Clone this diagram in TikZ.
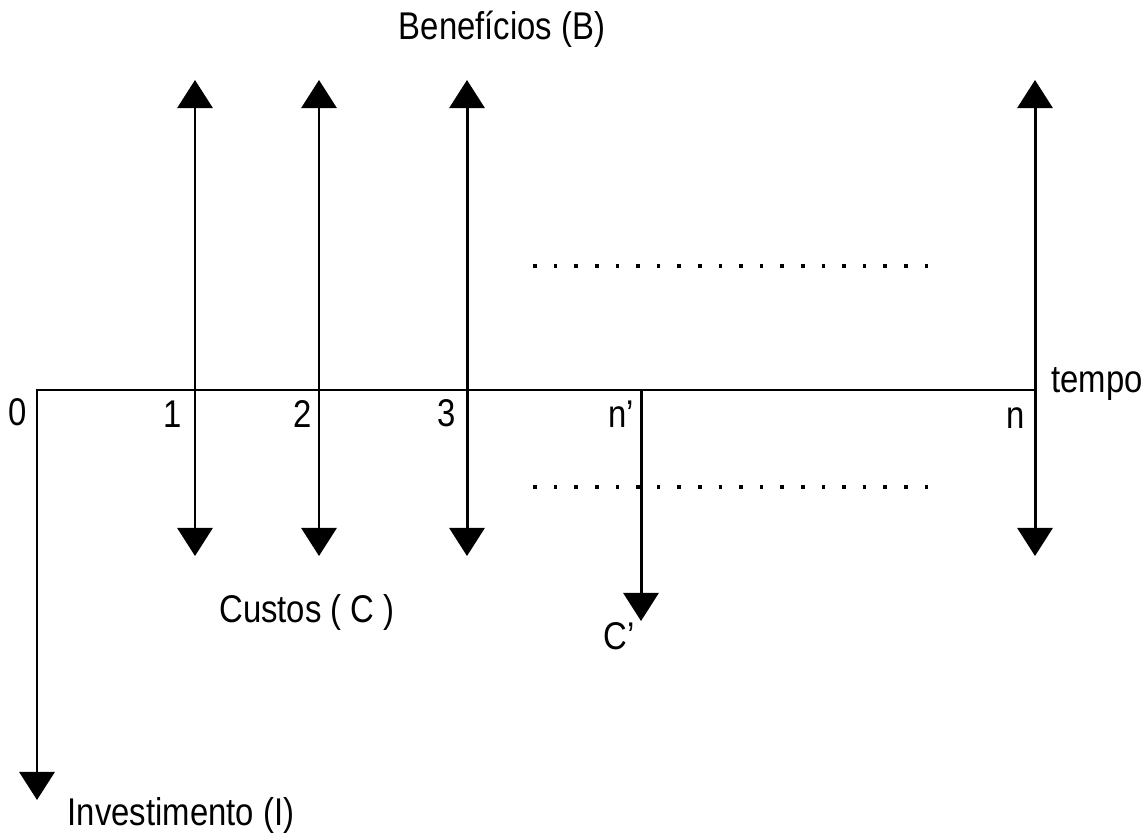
\documentclass[tikz,border=0pt]{standalone}
\usepackage{fontspec}
\setmainfont{Liberation Sans}[FakeStretch=0.85]
\usetikzlibrary{arrows.meta}

\begin{document}
\begin{tikzpicture}
    [x=0.02cm, y=-0.02cm,
     >={Triangle[length=16pt, width=20pt]},  % filled tips
     flow/.style={line width=1.7pt, draw=black},
     lbl/.style={inner sep=0pt, font=\fontsize{22}{26}\selectfont},
     dotrow/.style={fill=black},
    ]

\useasboundingbox (0,0) rectangle (1148,838);

% time axis and investment
\coordinate (orig) at (37,390);
\coordinate (axis_end) at (1035,390);
\coordinate (inv_tip) at (37,800);
\draw[flow, ->, line join=miter] (axis_end) -- (orig) -- (inv_tip);

% benefit / cost arrows
\coordinate (ben_1) at (195,80);  \coordinate (cst_1) at (195,556);
\coordinate (ben_2) at (319,80);  \coordinate (cst_2) at (319,556);
\coordinate (ben_3) at (467,80);  \coordinate (cst_3) at (467,556);
\coordinate (ben_n) at (1035,80); \coordinate (cst_n) at (1035,556);
\draw[flow, <->] (cst_1) -- (ben_1);
\draw[flow, <->] (cst_2) -- (ben_2);
\draw[flow, <->] (cst_3) -- (ben_3);
\draw[flow, <->] (cst_n) -- (ben_n);

\coordinate (np_top) at (641,390);
\coordinate (np_tip) at (641,621);
\draw[flow, ->] (np_top) -- (np_tip);

% dotted rows
\foreach \i in {0,...,19} {
  \fill[dotrow] ({535+20.6*\i-1.8},264.2) rectangle ++(3.6,3.6);
  \fill[dotrow] ({535+20.6*\i-1.8},485.2) rectangle ++(3.6,3.6);
}

% labels
\node[lbl] (lab_0) at (18,412) {0};
\node[lbl] (lab_1) at (173,414) {1};
\node[lbl] (lab_2) at (303,414) {2};
\node[lbl] (lab_3) at (447,413) {3};
\node[lbl] (lab_np) at (621,414) {n’};
\node[lbl] (lab_n) at (1016,418) {n};
\node[lbl, anchor=west] (lab_tempo) at (1051,384) {tempo};
\node[lbl] (lab_ben) at (502,29) {Benefícios (B)};
\node[lbl] (lab_cst) at (307,612) {Custos ( C )};
\node[lbl] (lab_cp) at (619,636) {C’};
\node[lbl] (lab_inv) at (181,815) {Investimento (I)};

\end{tikzpicture}
\end{document}
